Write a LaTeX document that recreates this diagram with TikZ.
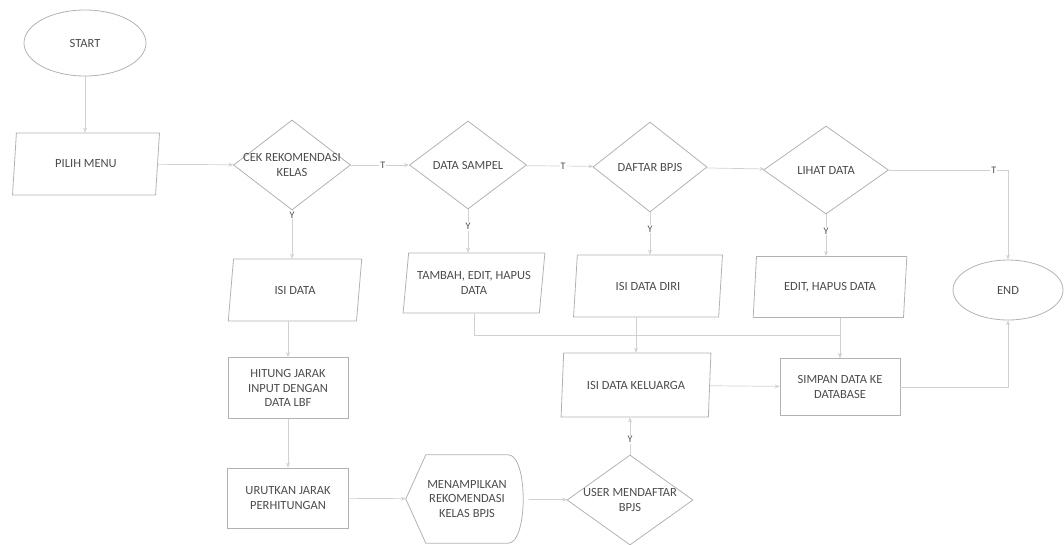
\documentclass[tikz,border=0pt]{standalone}
\usepackage{fontspec}
\setmainfont{Carlito}
\usetikzlibrary{arrows.meta,shapes.geometric}

\begin{document}
\begin{tikzpicture}[x=1pt,y=-1pt,
  every node/.style={font=\fontsize{12.5}{14.5}\selectfont, text=black!70, align=center},
  shapeline/.style={draw=black!30, line width=0.8pt},
  terminal/.style={shapeline, ellipse, inner sep=0pt},
  io/.style={shapeline, trapezium, trapezium left angle=78, trapezium right angle=102, trapezium stretches=true, inner sep=0pt},
  decision/.style={shapeline, diamond, aspect=1.3, inner sep=-12pt},
  process/.style={shapeline, rectangle, inner sep=0pt},
  flow/.style={draw=black!18, line width=0.7pt, -{Stealth[length=5pt,width=4pt]}},
  lbl/.style={font=\fontsize{10}{12}\selectfont, fill=white, inner sep=1pt}]
\useasboundingbox (0,0) rectangle (1064,544);
\node[terminal, minimum width=122pt, minimum height=66pt] (start) at (85,43) {START};
\node[io, minimum width=148pt, minimum height=62pt] (pilih) at (86,164) {PILIH MENU};
\node[decision, minimum width=117pt, minimum height=90pt] (cek) at (292,165) {CEK REKOMENDASI\\KELAS};
\node[decision, minimum width=117pt, minimum height=88pt] (sampel) at (468,165) {DATA SAMPEL};
\node[decision, minimum width=114pt, minimum height=90pt] (daftar) at (650,167) {DAFTAR BPJS};
\node[decision, minimum width=125pt, minimum height=88pt] (lihat) at (826,170) {LIHAT DATA};
\node[io, minimum width=134pt, minimum height=62pt] (isidata) at (295,290) {ISI DATA};
\node[io, minimum width=142pt, minimum height=60pt] (tambah) at (474,283) {TAMBAH, EDIT, HAPUS\\DATA};
\node[io, minimum width=150pt, minimum height=62pt] (diri) at (648,286) {ISI DATA DIRI};
\node[io, minimum width=154pt, minimum height=61pt] (edithapus) at (830,287) {EDIT, HAPUS DATA};
\node[terminal, minimum width=110pt, minimum height=60pt] (end) at (1008,290) {END};
\node[process, minimum width=120pt, minimum height=61pt] (hitung) at (288,388) {HITUNG JARAK\\INPUT DENGAN\\DATA LBF};
\node[process, minimum width=121pt, minimum height=60pt] (urutkan) at (288,498) {URUTKAN JARAK\\PERHITUNGAN};
\node[minimum width=122pt, minimum height=88pt] (tampil) at (467,499) {MENAMPILKAN\\REKOMENDASI\\KELAS BPJS};
\draw[shapeline] (tampil.west) -- ([xshift=20pt]tampil.north west) -- ([xshift=-20pt]tampil.north east) .. controls (tampil.north east) and (tampil.south east) .. ([xshift=-20pt]tampil.south east) -- ([xshift=20pt]tampil.south west) -- cycle;
\node[io, minimum width=150pt, minimum height=64pt] (keluarga) at (636,385) {ISI DATA KELUARGA};
\node[decision, minimum width=126pt, minimum height=90pt] (user) at (630,500) {USER MENDAFTAR\\BPJS};
\node[process, minimum width=120pt, minimum height=57pt] (simpan) at (840,387) {SIMPAN DATA KE\\DATABASE};
\draw[flow] (start.south) -- (start.south |- pilih.north);
\draw[flow] (pilih) -- (cek);
\draw[flow] (cek) -- node[lbl, pos=0.55] {T} (sampel);
\draw[flow] (sampel) -- node[lbl, pos=0.55] {T} (daftar);
\draw[flow] (daftar) -- (lihat);
\draw[flow] (lihat.east) -- node[lbl, pos=0.88] {T} (lihat.east -| end.north) -- (end.north);
\draw[flow] (cek.south) -- node[lbl, pos=0.1] {Y} (cek.south |- isidata.north);
\draw[flow] (sampel.south) -- node[lbl, pos=0.4] {Y} (sampel.south |- tambah.north);
\draw[flow] (daftar.south) -- node[lbl, pos=0.4] {Y} (daftar.south |- diri.north);
\draw[flow] (lihat.south) -- node[lbl, pos=0.4] {Y} (lihat.south |- edithapus.north);
\draw[flow] (hitung.north |- isidata.south) -- (hitung.north);
\draw[flow] (hitung) -- (urutkan);
\draw[flow] (urutkan) -- (tampil);
\draw[flow] (tampil) -- (user);
\draw[flow] (user.north) -- node[lbl, pos=0.4] {Y} (user.north |- keluarga.south);
\draw[flow] (keluarga.north |- diri.south) -- (keluarga.north);
\draw[flow] (keluarga) -- (simpan);
\draw[flow] (simpan.north |- edithapus.south) -- (simpan.north);
\draw[flow] (tambah.south) -- ++(0,22) -| (simpan.north);
\draw[flow] (simpan.east) -| (end.south);
\end{tikzpicture}
\end{document}
